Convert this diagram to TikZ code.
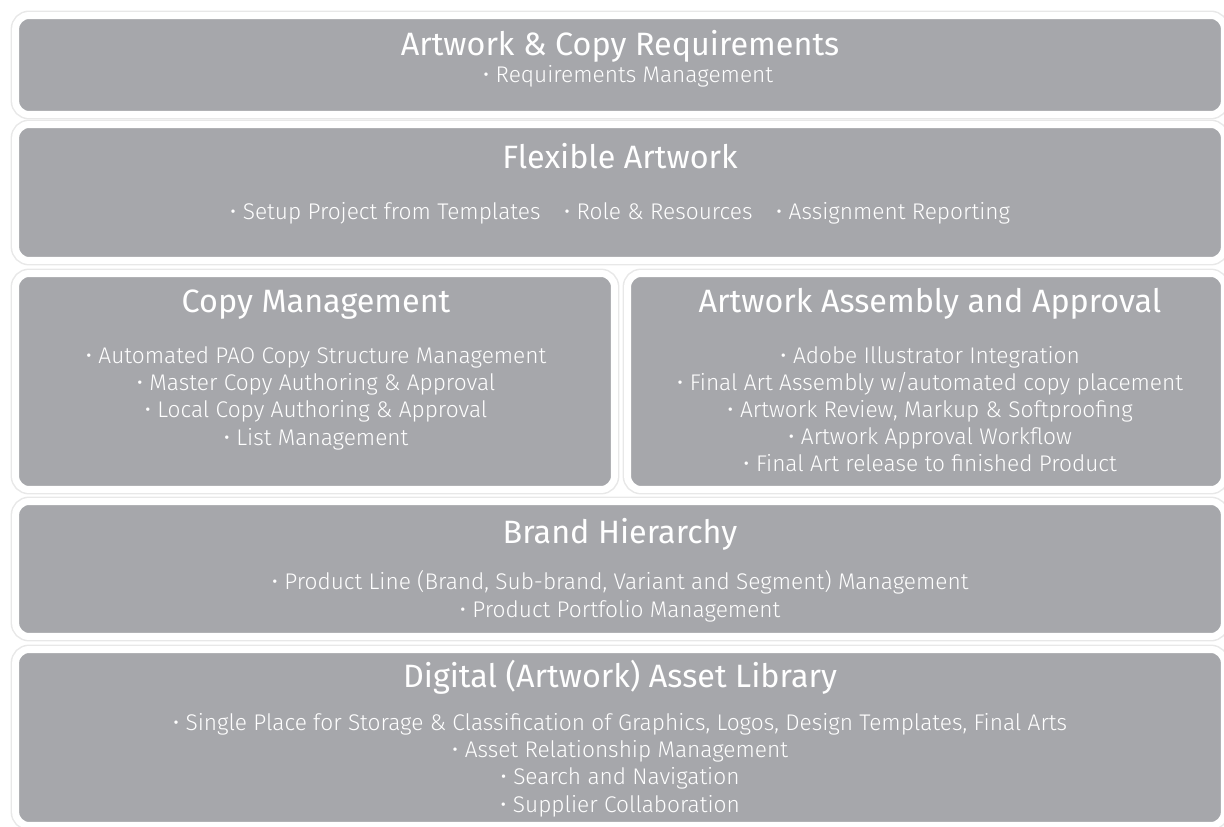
\documentclass[tikz,border=0pt]{standalone}
\usepackage{fontspec}
\setmainfont{Fira Sans}
\newfontfamily\lightfont{Fira Sans Light}
\usetikzlibrary{positioning}
\definecolor{panelgray}{RGB}{166,167,171}
\tikzset{
  panel/.style={fill=panelgray, draw=white, line width=1.4mm, rounded corners=2.7mm,
    inner sep=0pt, outer sep=0pt, preaction={draw=black!9, line width=2mm}},
  heading/.style={text=white, anchor=base, inner sep=0pt, font=\fontsize{18.4}{22}\selectfont},
  bullets/.style={text=white, anchor=base, align=center, inner sep=0pt,
    font=\lightfont\fontsize{12.9}{15.4}\selectfont},
}

\begin{document}
\begin{tikzpicture}[x=0.02cm, y=-0.02cm]
\useasboundingbox (0,0) rectangle (1224,827);

% layers, top to bottom
\node[panel, minimum width=24.18cm, minimum height=1.98cm] (req) at (620,65) {};
\node[panel, minimum width=24.18cm, minimum height=2.72cm] (flex) at (620,192.5) {};
\node[panel, minimum width=11.98cm, minimum height=4.32cm] (copy) at (315,381.5) {};
\node[panel, minimum width=11.94cm, minimum height=4.32cm] (assembly) at (926,381.5) {};
\node[panel, minimum width=24.18cm, minimum height=2.70cm] (brand) at (620,569) {};
\node[panel, minimum width=24.18cm, minimum height=3.52cm] (library) at (620,737.5) {};

% titles and items (items sit on the baseline of their last line)
\node[heading] (reqtitle) at (620,56) {Artwork \& Copy Requirements};
\node[bullets] (reqitems) at (628,83) {• Requirements Management};

\node[heading] (flextitle) at (620,169) {Flexible Artwork};
\node[bullets] (flexitems) at (620,220) {• Setup Project from Templates\hspace{0.75em}\ • Role \& Resources\hspace{0.75em}\ • Assignment Reporting};

\node[heading] (copytitle) at (316,313) {Copy Management};
\node[bullets] (copyitems) at (316,445) {• Automated PAO Copy Structure Management\\
  • Master Copy Authoring \& Approval\\
  • Local Copy Authoring \& Approval\\
  • List Management};

\node[heading] (assemblytitle) at (930,313) {Artwork Assembly and Approval};
\node[bullets] (assemblyitems) at (930,472) {• Adobe Illustrator Integration\\
  • Final Art Assembly w/automated copy placement\\
  • Artwork Review, Markup \& Softproofing\\
  • Artwork Approval Workflow\\
  • Final Art release to finished Product};

\node[heading] (brandtitle) at (620,543) {Brand Hierarchy};
\node[bullets] (branditems) at (620,617) {• Product Line (Brand, Sub-brand, Variant and Segment) Management\\
  • Product Portfolio Management};

\node[heading] (librarytitle) at (620,687) {Digital (Artwork) Asset Library};
\node[bullets] (libraryitems) at (620,812) {• Single Place for Storage \& Classification of Graphics, Logos, Design Templates, Final Arts\\
  • Asset Relationship Management\\
  • Search and Navigation\\
  • Supplier Collaboration};
\end{tikzpicture}
\end{document}
